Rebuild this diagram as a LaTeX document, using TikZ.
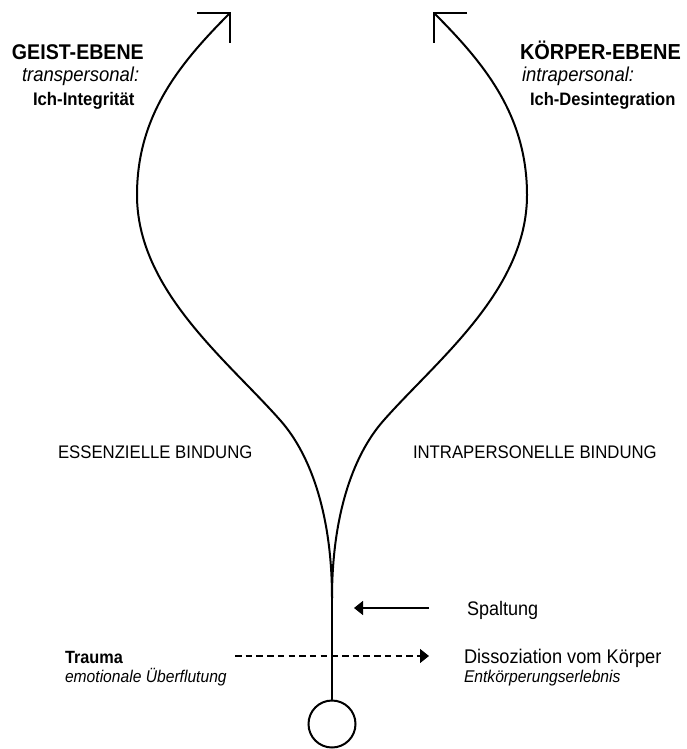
\documentclass[tikz,border=0pt]{standalone}
\usepackage{fontspec}
\setmainfont[FakeStretch=0.92]{Liberation Sans}
\usetikzlibrary{arrows.meta}
\newcommand{\fs}[1]{\fontsize{#1}{#1}\selectfont}
\begin{document}
\begin{tikzpicture}[x=1pt,y=-1pt,
  curve/.style={line width=2pt, line cap=round},
  barb/.style={line width=2pt, line join=miter},
  thinarrow/.style={line width=1.5pt, -{Triangle[length=9pt,width=14pt]}},
  lbl/.style={anchor=base west, inner sep=0pt, outer sep=0pt}]
\useasboundingbox (0,0) rectangle (687,749);
% origin circle and stem
\node[draw, circle, line width=2pt, minimum size=47pt, inner sep=0pt] (origin) at (332,724) {};
\coordinate (split) at (332,598);
\coordinate (lmid) at (280,420);
\coordinate (rmid) at (384,420);
\coordinate (lmax) at (137,195);
\coordinate (rmax) at (527,195);
\coordinate (ltip) at (230,13);
\coordinate (rtip) at (434,13);
\draw[curve] (origin.north) -- (split);
\draw[curve] (split) .. controls (332,520) and (313,457) .. (lmid)
                     .. controls (227,360) and (137,290) .. (lmax)
                     .. controls (137,115) and (180,63) .. (ltip);
\draw[curve] (split) .. controls (332,520) and (351,457) .. (rmid)
                     .. controls (437,360) and (527,290) .. (rmax)
                     .. controls (527,115) and (484,63) .. (rtip);
\draw[barb] ([xshift=-33pt]ltip) -- (ltip) -- ([yshift=-30pt]ltip);
\draw[barb] ([xshift=33pt]rtip) -- (rtip) -- ([yshift=-30pt]rtip);
% top labels
\node[lbl, font=\bfseries\fs{21.3}] (geist) at (12,60) {GEIST-EBENE};
\node[lbl, font=\itshape\fs{20.1}] (trans) at (22,82) {transpersonal:};
\node[lbl, font=\bfseries\fs{18.2}] (ichint) at (33,106) {Ich-Integrität};
\node[lbl, font=\bfseries\fs{21.7}] (koerper) at (520,60) {KÖRPER-EBENE};
\node[lbl, font=\itshape\fs{20.1}] (intra) at (522,82) {intrapersonal:};
\node[lbl, font=\bfseries\fs{18}] (ichdes) at (530,106) {Ich-Desintegration};
% middle labels
\node[lbl, font=\fs{18.2}] (ess) at (58,458) {ESSENZIELLE BINDUNG};
\node[lbl, font=\fs{18.2}] (intrab) at (413,458) {INTRAPERSONELLE BINDUNG};
% bottom labels
\node[lbl, font=\fs{19.6}] (spalt) at (467,615) {Spaltung};
\node[lbl, font=\bfseries\fs{17.7}] (trauma) at (65,663) {Trauma};
\node[lbl, font=\itshape\fs{17}] (emo) at (65,682) {emotionale Überflutung};
\node[lbl, font=\fs{19.8}] (diss) at (464,663) {Dissoziation vom Körper};
\node[lbl, font=\itshape\fs{17}] (entk) at (464,682) {Entkörperungserlebnis};
% arrows
\coordinate (spA) at (429,608);
\coordinate (spB) at (354,608);
\draw[thinarrow] (spA) -- (spB);
\coordinate (dA) at (235,656);
\coordinate (dB) at (429,656);
\draw[thinarrow, dash pattern=on 6.5pt off 4.2pt] (dA) -- (dB);
\end{tikzpicture}
\end{document}
